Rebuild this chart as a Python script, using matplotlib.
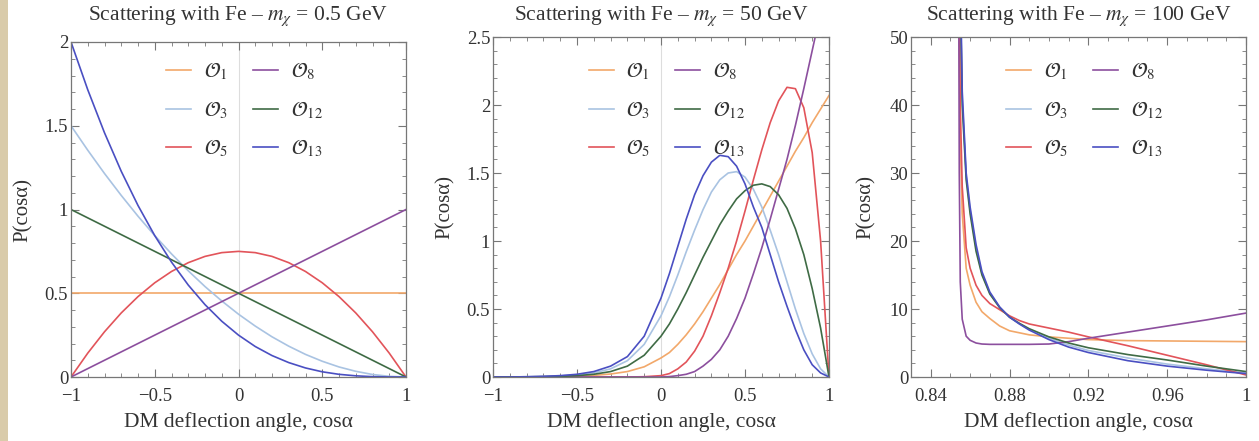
import matplotlib
matplotlib.use("Agg")
import matplotlib.pyplot as plt
from matplotlib.ticker import MultipleLocator, FuncFormatter
from matplotlib.patches import Rectangle

plt.rcParams['font.family'] = ['Liberation Serif', 'DejaVu Serif']
plt.rcParams['mathtext.fontset'] = 'stix'

# ---------------- data ----------------
labels = [r"$\mathcal{O}_1$", r"$\mathcal{O}_3$", r"$\mathcal{O}_5$",
          r"$\mathcal{O}_8$", r"$\mathcal{O}_{12}$", r"$\mathcal{O}_{13}$"]
colors = ["#f2a86a", "#a9c3e2", "#e2545a", "#8c4f9e", "#3f6b45", "#4a4fc2"]

titles = [r"Scattering with Fe – $m_\chi$ = 0.5 GeV",
          r"Scattering with Fe – $m_\chi$ = 50 GeV",
          r"Scattering with Fe – $m_\chi$ = 100 GeV"]

# Panel 1: m_chi = 0.5 GeV
x1 = [-1.0, -0.9, -0.8, -0.7, -0.6, -0.5, -0.4, -0.3, -0.2, -0.1, 0.0,
      0.1, 0.2, 0.3, 0.4, 0.5, 0.6, 0.7, 0.8, 0.9, 1.0]
p1_O1 = [0.5] * 21
p1_O3 = [1.5, 1.354, 1.215, 1.084, 0.96, 0.844, 0.735, 0.634, 0.54, 0.454, 0.375,
         0.304, 0.24, 0.184, 0.135, 0.094, 0.06, 0.034, 0.015, 0.004, 0.0]
p1_O5 = [0.0, 0.1425, 0.27, 0.3825, 0.48, 0.5625, 0.63, 0.6825, 0.72, 0.7425, 0.75,
         0.7425, 0.72, 0.6825, 0.63, 0.5625, 0.48, 0.3825, 0.27, 0.1425, 0.0]
p1_O8 = [0.0, 0.05, 0.1, 0.15, 0.2, 0.25, 0.3, 0.35, 0.4, 0.45, 0.5,
         0.55, 0.6, 0.65, 0.7, 0.75, 0.8, 0.85, 0.9, 0.95, 1.0]
p1_O12 = [1.0, 0.95, 0.9, 0.85, 0.8, 0.75, 0.7, 0.65, 0.6, 0.55, 0.5,
          0.45, 0.4, 0.35, 0.3, 0.25, 0.2, 0.15, 0.1, 0.05, 0.0]
p1_O13 = [2.0, 1.715, 1.458, 1.228, 1.024, 0.844, 0.686, 0.549, 0.432, 0.333, 0.25,
          0.182, 0.128, 0.086, 0.054, 0.031, 0.016, 0.007, 0.002, 0.0003, 0.0]

# Panel 2: m_chi = 50 GeV
x2 = [-1.0, -0.9, -0.8, -0.7, -0.6, -0.5, -0.4, -0.3, -0.2, -0.1, 0.0,
      0.05, 0.1, 0.15, 0.2, 0.25, 0.3, 0.35, 0.4, 0.45, 0.5,
      0.55, 0.6, 0.65, 0.7, 0.75, 0.8, 0.85, 0.9, 0.95, 1.0]
p2_O1 = [0.0, 0.0, 0.001, 0.002, 0.004, 0.007, 0.012, 0.022, 0.04, 0.075, 0.14,
         0.18, 0.24, 0.31, 0.39, 0.48, 0.58, 0.68, 0.79, 0.9, 1.0,
         1.11, 1.22, 1.33, 1.44, 1.55, 1.66, 1.76, 1.87, 1.97, 2.07]
p2_O3 = [0.0, 0.0, 0.002, 0.004, 0.008, 0.015, 0.03, 0.06, 0.12, 0.24, 0.45,
         0.59, 0.75, 0.92, 1.08, 1.23, 1.36, 1.45, 1.5, 1.51, 1.47,
         1.38, 1.25, 1.08, 0.9, 0.7, 0.5, 0.32, 0.17, 0.06, 0.0]
p2_O5 = [0.0, 0.0, 0.0, 0.0, 0.0, 0.0, 0.0, 0.0, 0.0, 0.002, 0.01,
         0.025, 0.06, 0.11, 0.19, 0.3, 0.45, 0.62, 0.8, 1.0, 1.22,
         1.45, 1.67, 1.87, 2.03, 2.13, 2.12, 1.98, 1.65, 1.0, 0.0]
p2_O8 = [0.0, 0.0, 0.0, 0.0, 0.0, 0.0, 0.0, 0.0, 0.0, 0.0, 0.0,
         0.003, 0.01, 0.02, 0.04, 0.08, 0.13, 0.2, 0.3, 0.43, 0.58,
         0.76, 0.95, 1.16, 1.38, 1.6, 1.85, 2.12, 2.4, 2.68, 2.95]
p2_O12 = [0.0, 0.0, 0.001, 0.002, 0.005, 0.01, 0.02, 0.04, 0.08, 0.16, 0.3,
          0.39, 0.5, 0.62, 0.75, 0.88, 1.0, 1.12, 1.22, 1.31, 1.37,
          1.41, 1.42, 1.4, 1.34, 1.24, 1.09, 0.9, 0.65, 0.36, 0.0]
p2_O13 = [0.0, 0.0, 0.002, 0.005, 0.01, 0.02, 0.04, 0.08, 0.15, 0.3, 0.58,
          0.76, 0.96, 1.16, 1.34, 1.48, 1.58, 1.63, 1.62, 1.55, 1.42,
          1.25, 1.1, 0.9, 0.7, 0.52, 0.35, 0.2, 0.09, 0.03, 0.0]

# Panel 3: m_chi = 100 GeV
x3 = [0.854, 0.8545, 0.855, 0.856, 0.858, 0.860, 0.863, 0.866, 0.870, 0.875,
      0.880, 0.885, 0.890, 0.900, 0.910, 0.920, 0.940, 0.960, 0.980, 1.000]
p3_O1 = [80, 50, 35, 24, 16, 13.5, 11, 9.6, 8.6, 7.5,
         6.8, 6.5, 6.2, 5.9, 5.7, 5.5, 5.35, 5.3, 5.25, 5.2]
p3_O3 = [80, 70, 58, 41, 29.5, 24.5, 19, 15.2, 12.3, 10.2,
         8.8, 7.8, 7.0, 5.7, 4.7, 3.9, 2.8, 1.9, 1.2, 0.6]
p3_O5 = [80, 55, 40, 28, 19, 16, 13.5, 12, 10.8, 9.9,
         9.0, 8.3, 7.8, 7.2, 6.6, 5.9, 4.6, 3.2, 1.8, 0.3]
p3_O8 = [80, 30, 14, 8.5, 6.0, 5.4, 5.0, 4.85, 4.8, 4.8,
         4.8, 4.8, 4.8, 4.85, 5.2, 5.7, 6.6, 7.5, 8.4, 9.4]
p3_O12 = [80, 70, 57, 40, 29, 24, 18.5, 15, 12.2, 10.2,
          8.8, 7.9, 7.1, 5.9, 5.0, 4.3, 3.3, 2.5, 1.6, 0.8]
p3_O13 = [80, 70, 60, 42, 30, 25, 19.5, 15.5, 12.5, 10.3,
          8.8, 7.8, 6.9, 5.5, 4.4, 3.6, 2.4, 1.6, 1.0, 0.5]

panels = [
    (x1, [p1_O1, p1_O3, p1_O5, p1_O8, p1_O12, p1_O13]),
    (x2, [p2_O1, p2_O3, p2_O5, p2_O8, p2_O12, p2_O13]),
    (x3, [p3_O1, p3_O3, p3_O5, p3_O8, p3_O12, p3_O13]),
]

# ---------------- figure ----------------
W, H = 1259, 441
fig = plt.figure(figsize=(W / 100, H / 100), dpi=100)
fig.patches.append(Rectangle((0, 0), 8 / W, 1, transform=fig.transFigure,
                             facecolor="#d9cbaa", edgecolor="none", zorder=-1))

boxes = [(71, 406, 42, 377), (493, 829, 37, 377), (911, 1246, 37, 377)]
xlims = [(-1, 1), (-1, 1), (0.83, 1.0)]
ylims = [(0, 2), (0, 2.5), (0, 50)]
xmaj = [0.5, 0.5, 0.04]
xmin_ = [0.1, 0.1, 0.01]
ymaj = [0.5, 0.5, 10]
ymin_ = [0.1, 0.1, 2]
ylab_x = [-0.115, -0.115, -0.105]

frame_col = "#777777"
text_col = "#333333"


def fmt(v, pos):
    s = "%g" % round(v, 6)
    return s.replace("-", "\u2212")


for i, (x, series) in enumerate(panels):
    l, r, t, b = boxes[i]
    hpx = b - t
    ax = fig.add_axes([l / W, 1 - b / H, (r - l) / W, hpx / H])
    if i < 2:
        ax.axvline(0, color="#dddddd", lw=0.8, zorder=0)
    for y, c, lab in zip(series, colors, labels):
        ax.plot(x, y, color=c, lw=1.2, label=lab)
    ax.set_xlim(*xlims[i])
    ax.set_ylim(*ylims[i])
    ax.xaxis.set_major_locator(MultipleLocator(xmaj[i]))
    ax.xaxis.set_minor_locator(MultipleLocator(xmin_[i]))
    ax.yaxis.set_major_locator(MultipleLocator(ymaj[i]))
    ax.yaxis.set_minor_locator(MultipleLocator(ymin_[i]))
    ax.xaxis.set_major_formatter(FuncFormatter(fmt))
    ax.yaxis.set_major_formatter(FuncFormatter(fmt))
    ax.tick_params(which="both", direction="in", top=True, right=True,
                   color=frame_col, labelcolor=text_col, labelsize=13.5)
    ax.tick_params(which="major", length=6, width=0.8)
    ax.tick_params(which="minor", length=3, width=0.6)
    ax.tick_params(axis="x", pad=8)
    ax.tick_params(axis="y", pad=2)
    for sp in ax.spines.values():
        sp.set_color(frame_col)
        sp.set_linewidth(0.9)
    ax.set_xlabel("DM deflection angle, cos\u03b1", fontsize=15.5, color=text_col)
    ax.xaxis.set_label_coords(0.5, -(412 - b) / hpx)
    ax.set_ylabel("P(cos\u03b1)", fontsize=15, color=text_col)
    ax.yaxis.set_label_coords(ylab_x[i], 0.5)
    fig.text(((l + r) / 2) / W, 1 - 16 / H, titles[i], ha="center", va="center",
             fontsize=15.5, color=text_col)
    h, lb = ax.get_legend_handles_labels()
    ax.legend(h, lb, ncol=2,
              loc="upper left", bbox_to_anchor=(0.285, (b - 61) / hpx), frameon=False,
              fontsize=15, handlelength=1.2, handletextpad=0.6,
              columnspacing=1.2, labelspacing=0.8, labelcolor=text_col,
              borderaxespad=0, borderpad=0)

fig.savefig("out.png", dpi=100)
